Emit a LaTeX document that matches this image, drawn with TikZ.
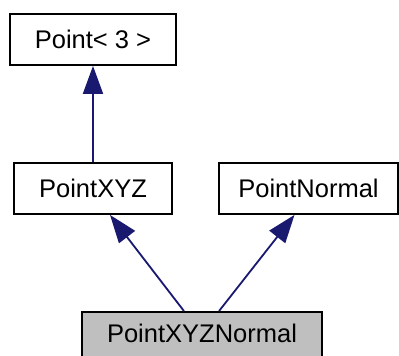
\documentclass[tikz,border=0pt]{standalone}
\usepackage{fontspec}
\setmainfont{Liberation Sans}
\usetikzlibrary{arrows.meta,calc}
\definecolor{edgeblue}{HTML}{191970}
\definecolor{boxgray}{HTML}{BFBFBF}
\tikzset{
  cls/.style={draw=black, line width=1.8pt, fill=white, inner sep=0pt, minimum height=51pt,
    font=\fontsize{25.5}{30}\selectfont},
  inh/.style={draw=edgeblue, line width=1.8pt, -{Triangle[length=28pt,width=20pt]}}
}
\begin{document}
\begin{tikzpicture}[x=1pt,y=-1pt]
\useasboundingbox (0,0) rectangle (399,356);
\node[cls, minimum width=166pt] (p3) at (93,39.5) {Point< 3 >};
\node[cls, minimum width=158pt] (pxyz) at (93,188.5) {PointXYZ};
\node[cls, minimum width=179pt] (pn) at (308.5,188.5) {PointNormal};
\node[cls, fill=boxgray, minimum width=240pt, minimum height=46pt] (pxyzn) at (202,335) {\raisebox{4pt}{PointXYZNormal}};
\draw[inh] (pxyz.north) -- (p3.south);
\draw[inh] ([xshift=-18pt]pxyzn.north) -- ([xshift=17pt]pxyz.south);
\draw[inh] ([xshift=17pt]pxyzn.north) -- ([xshift=-14pt]pn.south);
\end{tikzpicture}
\end{document}
